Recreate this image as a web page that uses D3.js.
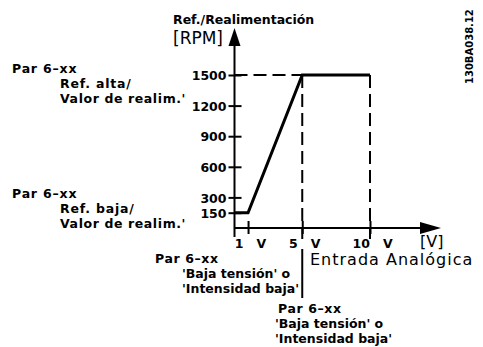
<!DOCTYPE html>
<html>
<head>
<meta charset="utf-8">
<script src="https://cdn.jsdelivr.net/npm/d3@7"></script>
<style>
  html, body { margin: 0; padding: 0; background: #fff; }
  svg { display: block; font-family: "DejaVu Sans", "Liberation Sans", Arial, sans-serif; }
</style>
</head>
<body>
<svg id="chart" width="483" height="347"></svg>
<script>
// Analog input (V) -> reference / feedback (RPM)
const inputVolts = [0, 1, 5, 10];
const refRpm = [150, 150, 1500, 1500];
const yTickValues = [150, 300, 600, 900, 1200, 1500];
const xTickValues = [1, 5, 10];
const xTickLabels = ["1   V", "5   V", "10   V"];
const highRef = 1500;
const lowVolt = 5, highVolt = 10;

const svg = d3.select("#chart");
const x = d3.scaleLinear().domain([0, 10]).range([234.5, 370]);
const y = d3.scaleLinear().domain([0, 1500]).range([228, 75]);

const ink = "#000";

// dashed guides at the high reference and the two input limits
const guides = svg.append("g").attr("stroke", ink).attr("stroke-width", 2)
  .attr("stroke-dasharray", "13,6").attr("fill", "none");
guides.append("line").attr("x1", x(0)).attr("x2", x(lowVolt))
  .attr("y1", y(highRef)).attr("y2", y(highRef));
guides.append("line").attr("x1", x(lowVolt)).attr("x2", x(lowVolt))
  .attr("y1", y(highRef)).attr("y2", y(0) + 11);
guides.append("line").attr("x1", x(highVolt)).attr("x2", x(highVolt))
  .attr("y1", y(highRef)).attr("y2", y(0) + 11);

// solid leader below the 5 V mark
svg.append("line").attr("x1", x(lowVolt)).attr("x2", x(lowVolt))
  .attr("y1", 249).attr("y2", 298).attr("stroke", ink).attr("stroke-width", 2);

// y axis
const yAxis = d3.axisLeft(y).tickValues(yTickValues).tickFormat(d3.format("d"))
  .tickSize(6).tickPadding(2);
const gy = svg.append("g").attr("transform", `translate(${x(0)},0)`).call(yAxis);
gy.select(".domain").remove();
gy.selectAll(".tick line").attr("x1", 7).attr("x2", -6).attr("stroke", ink).attr("stroke-width", 2);
gy.selectAll(".tick text").attr("font-size", 12.5).attr("font-weight", "bold")
  .attr("font-family", "DejaVu Sans").attr("fill", ink).attr("dy", "0.37em");

svg.append("line").attr("x1", x(0)).attr("x2", x(0)).attr("y1", 237).attr("y2", 44)
  .attr("stroke", ink).attr("stroke-width", 2);
svg.append("path").attr("d", `M${x(0)},28 L${x(0) - 6},46 L${x(0) + 6},46 Z`).attr("fill", ink);

// x axis
const xAxis = d3.axisBottom(x).tickValues(xTickValues)
  .tickFormat((d, i) => xTickLabels[i]).tickSize(6).tickPadding(4);
const gx = svg.append("g").attr("transform", `translate(0,${y(0)})`).call(xAxis);
gx.select(".domain").remove();
gx.selectAll(".tick line").attr("y1", -7).attr("y2", 6).attr("stroke", ink).attr("stroke-width", 2);
gx.selectAll(".tick text").attr("font-size", 12.5).attr("font-weight", "bold")
  .attr("font-family", "DejaVu Sans").attr("fill", ink)
  .style("white-space", "pre").attr("dx", 2).attr("dy", "0.78em");

svg.append("line").attr("x1", x(0)).attr("x2", 424).attr("y1", y(0)).attr("y2", y(0))
  .attr("stroke", ink).attr("stroke-width", 2);
svg.append("path").attr("d", `M441,${y(0)} L420,${y(0) - 6} L420,${y(0) + 6} Z`).attr("fill", ink);

// transfer curve
const line = d3.line().x((d, i) => x(inputVolts[i])).y(d => y(d));
svg.append("path").attr("d", line(refRpm)).attr("fill", "none")
  .attr("stroke", ink).attr("stroke-width", 3).attr("stroke-linejoin", "miter");

// labels
function label(tx, ty, s, opts = {}) {
  return svg.append("text").attr("x", tx).attr("y", ty).text(s)
    .attr("font-size", opts.size || 12.5).attr("font-weight", opts.weight || "bold")
    .attr("letter-spacing", opts.ls != null ? opts.ls : 0).attr("fill", ink)
    .style("white-space", "pre");
}

label(173, 24, "Ref./Realimentación");
label(173, 44, "[RPM]", { size: 17, weight: "normal" });

label(12, 73, "Par 6\u2013xx", { ls: 0.8 });
label(60, 88, "Ref. alta/", { ls: 0.8 });
label(60, 103, "Valor de realim.'", { ls: 0.6 });

label(12, 198, "Par 6\u2013xx", { ls: 0.8 });
label(60, 213, "Ref. baja/", { ls: 0.8 });
label(60, 228, "Valor de realim.'", { ls: 0.6 });

label(420, 247, "[V]", { size: 16, weight: "normal" });
label(310, 265, "Entrada Analógica", { size: 16, weight: "normal", ls: 1 });

label(155, 263, "Par 6\u2013xx", { ls: 0.6 });
label(182, 278, "'Baja tensión' o");
label(182, 293, "'Intensidad baja'");

label(278, 313, "Par 6\u2013xx", { ls: 0.6 });
label(275, 328, "'Baja tensión' o");
label(275, 343, "'Intensidad baja'");

svg.append("text").attr("transform", "translate(473,84) rotate(-90)")
  .text("130BA038.12").attr("font-size", 10).attr("font-weight", "bold")
  .attr("fill", ink);
</script>
</body>
</html>
